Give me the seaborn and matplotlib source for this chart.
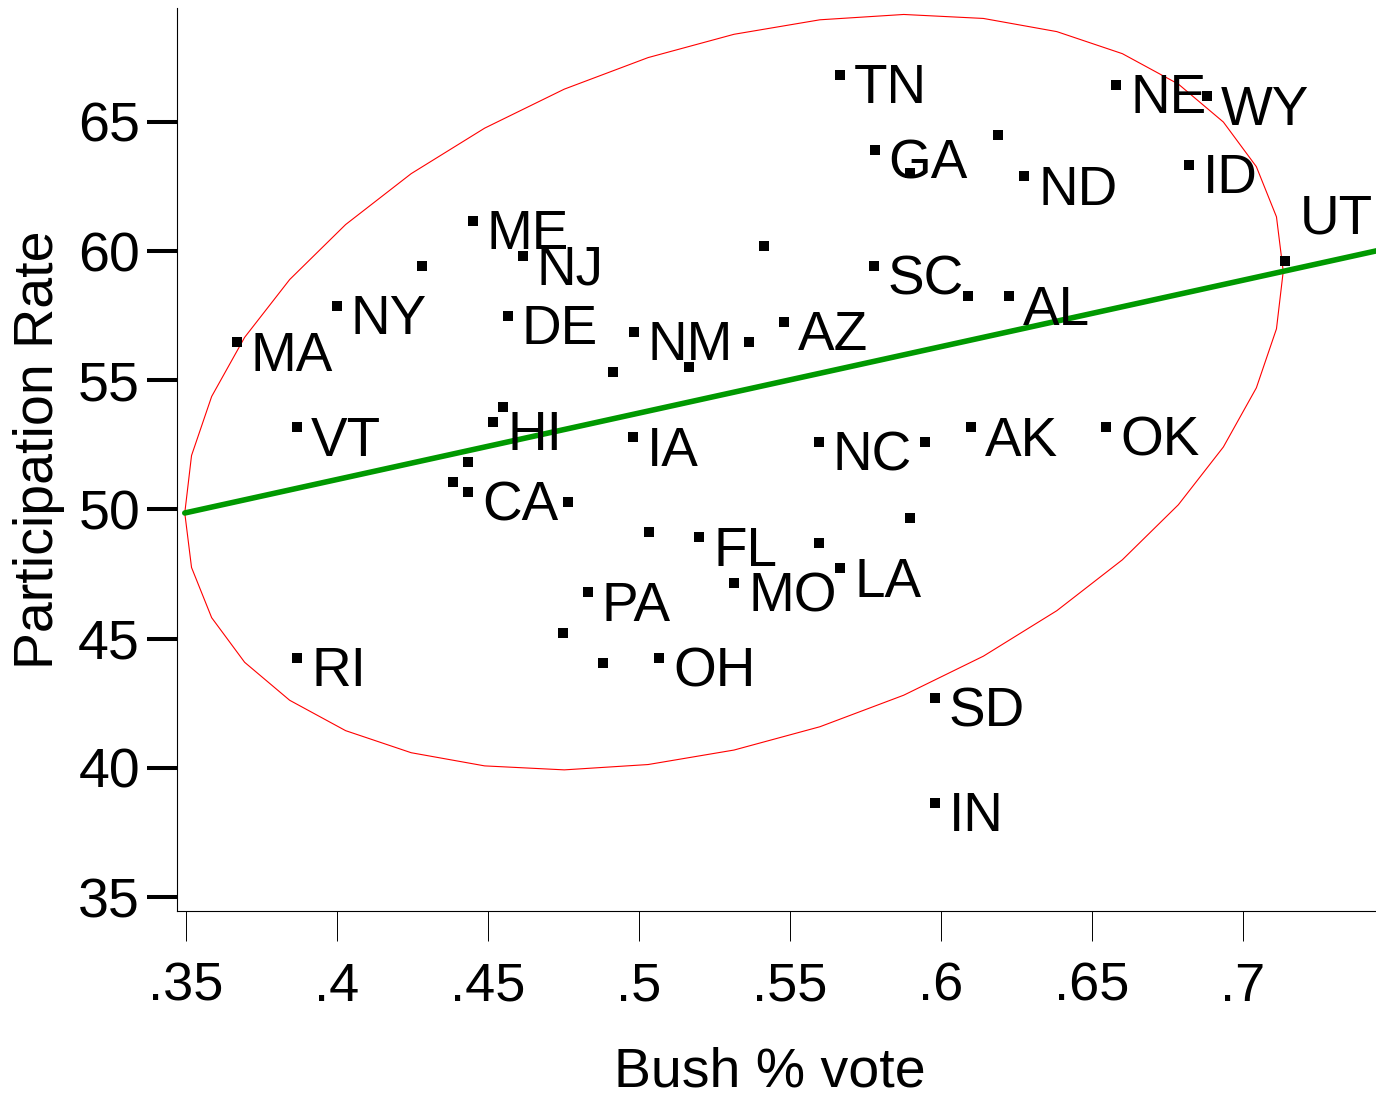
import numpy as np
import pandas as pd
import matplotlib
matplotlib.use("Agg")
import matplotlib.pyplot as plt
import seaborn as sns

# Bush share of the 2004 vote and voter participation rate by state
bush_vote = [0.5666, 0.658, 0.688, 0.578, 0.5897, 0.619, 0.6275, 0.682, 0.714,
             0.5778, 0.609, 0.6225, 0.5414, 0.445, 0.4616, 0.4281, 0.400, 0.3669,
             0.4566, 0.4983, 0.4914, 0.5166, 0.5364, 0.548, 0.3868, 0.455, 0.4517,
             0.4434, 0.4384, 0.4434, 0.4765, 0.5033, 0.4831, 0.4748, 0.4881, 0.3868,
             0.498, 0.5596, 0.5947, 0.6099, 0.5199, 0.5596, 0.5897, 0.5666, 0.5315,
             0.5066, 0.598, 0.6546, 0.598]
participation = [66.82, 66.43, 66.0, 63.92, 63.03, 64.5, 62.9, 63.34, 59.62,
                 59.43, 58.26, 58.26, 60.2, 61.17, 59.81, 59.43, 57.88, 56.48,
                 57.49, 56.87, 55.32, 55.51, 56.48, 57.26, 53.19, 53.97, 53.39,
                 51.84, 51.06, 50.68, 50.29, 49.13, 46.8, 45.22, 44.06, 44.25,
                 52.8, 52.61, 52.61, 53.19, 48.93, 48.7, 49.67, 47.73, 47.15,
                 44.25, 42.7, 53.19, 38.64]
state = ["TN", "NE", "WY", "GA", "", "", "ND", "ID", "UT",
         "SC", "", "AL", "", "ME", "NJ", "", "NY", "MA",
         "DE", "NM", "", "", "", "AZ", "VT", "", "HI",
         "", "", "CA", "", "", "PA", "", "", "RI",
         "IA", "NC", "", "AK", "FL", "", "", "LA", "MO",
         "OH", "SD", "OK", "IN"]

x_ticks = [0.35, 0.40, 0.45, 0.50, 0.55, 0.60, 0.65, 0.70]
x_tick_labels = [".35", ".4", ".45", ".5", ".55", ".6", ".65", ".7"]
y_ticks = [35, 40, 45, 50, 55, 60, 65]

df = pd.DataFrame({"bush": bush_vote, "part": participation, "state": state})

sns.set_theme(style="ticks")
plt.rcParams["font.family"] = ["Liberation Sans", "DejaVu Sans"]
plt.rcParams["text.color"] = "black"
plt.rcParams["axes.labelcolor"] = "black"

fig = plt.figure(figsize=(13.76, 10.93), dpi=100)
ax = fig.add_axes([0.1286, 0.1665, 1.0 - 0.1286, 0.9927 - 0.1665])
ax.set_xlim(0.3470, 0.7440)
ax.set_ylim(34.458, 69.41)

# 90% concentration ellipse (Cholesky parameterisation, 40 segments)
mx, my = df["bush"].mean(), df["part"].mean()
sx, sy = df["bush"].std(), df["part"].std()
r = df["bush"].corr(df["part"])
k = np.sqrt(-2.0 * np.log(1.0 - 0.90))
t = np.linspace(0.0, 2.0 * np.pi, 41)
ell = pd.DataFrame({
    "x": mx + k * sx * np.cos(t),
    "y": my + k * sy * (r * np.cos(t) + np.sqrt(1.0 - r ** 2) * np.sin(t)),
})
sns.lineplot(data=ell, x="x", y="y", sort=False, estimator=None,
             color="#ff0000", linewidth=0.8, ax=ax)

# least-squares fit line, starting at the ellipse's left edge
slope, intercept = np.polyfit(df["bush"], df["part"], 1)
fit = pd.DataFrame({"x": [ell["x"].min(), 0.80]})
fit["y"] = intercept + slope * fit["x"]
sns.lineplot(data=fit, x="x", y="y", color="#009900", linewidth=4.0, ax=ax)

# state markers
sns.scatterplot(data=df, x="bush", y="part", marker="s", s=50, color="black",
                linewidth=0, ax=ax, zorder=3)

# state labels to the right of each marker (UT sits above its marker)
for _, row in df.iterrows():
    if not row["state"]:
        continue
    dy = 20.0 if row["state"] == "UT" else -20.5
    ax.annotate(row["state"], (row["bush"], row["part"]),
                xytext=(10.0, dy), textcoords="offset points",
                ha="left", va="baseline", fontsize=39.5, color="black",
                annotation_clip=False)

ax.set_xticks(x_ticks)
ax.set_xticklabels(x_tick_labels)
ax.set_yticks(y_ticks)
ax.tick_params(axis="x", length=21.6, width=0.7, pad=15, labelsize=39,
               colors="black", direction="out")
ax.tick_params(axis="y", length=21.6, width=2.9, pad=5, labelsize=40,
               colors="black", direction="out")

ax.set_xlabel("Bush % vote", fontsize=40, color="black")
ax.set_ylabel("Participation Rate", fontsize=40, color="black")
ax.xaxis.set_label_coords(0.4946, -0.1495)
ax.yaxis.set_label_coords(-0.0934, 0.5105)

for side in ("top", "right"):
    ax.spines[side].set_visible(False)
for side in ("left", "bottom"):
    ax.spines[side].set_color("black")
    ax.spines[side].set_linewidth(0.8)

fig.savefig("out.png", dpi=100, facecolor="white")
